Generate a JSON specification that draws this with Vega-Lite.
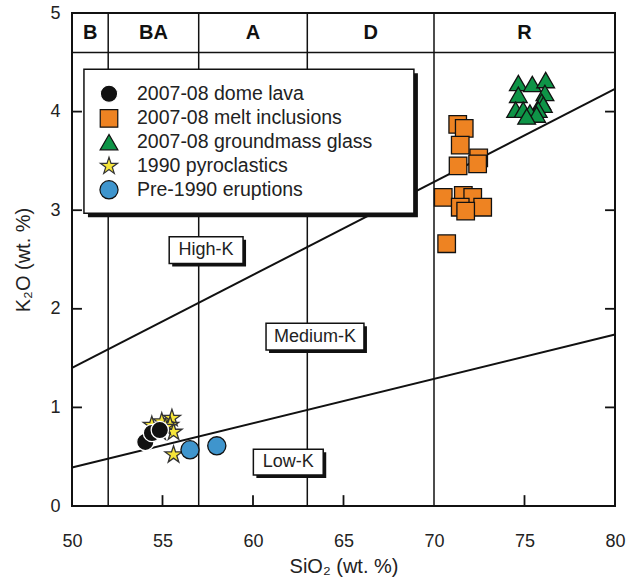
{
  "$schema": "https://vega.github.io/schema/vega-lite/v6.json",
  "width": 543,
  "height": 493,
  "autosize": {"type": "none"},
  "padding": {"left": 72, "top": 13, "right": 15, "bottom": 71},
  "background": "white",
  "config": {
    "view": {"stroke": "#111", "strokeWidth": 2},
    "font": "Liberation Sans",
    "axis": {
      "grid": false, "domain": false, "ticks": false, "tickSize": 0,
      "labelColor": "#222", "titleColor": "#222", "labelFont": "Liberation Sans",
      "titleFont": "Liberation Sans", "labelFontSize": 18, "titleFontSize": 20,
      "titleFontWeight": "normal", "labelFlush": false, "labelOverlap": false
    },
    "legend": {
      "orient": "none", "legendX": 27, "legendY": 71, "title": null, "padding": 0,
      "labelFont": "Liberation Sans", "labelFontSize": 19.5, "labelColor": "#222", "labelLimit": 0,
      "symbolSize": 200, "symbolStrokeColor": "#111", "symbolStrokeWidth": 1.2,
      "rowPadding": 1.7, "labelOffset": 18, "symbolType": "circle"
    }
  },
  "datasets": {
    "bounds": [{"SiO2": 52}, {"SiO2": 57}, {"SiO2": 63}, {"SiO2": 70}],
    "header": [
      {"label": "B", "SiO2": 51}, {"label": "BA", "SiO2": 54.5}, {"label": "A", "SiO2": 60},
      {"label": "D", "SiO2": 66.5}, {"label": "R", "SiO2": 75}
    ],
    "divides": [
      {"name": "High-K / Medium-K", "xa": 50, "ya": 1.40, "xb": 80, "yb": 4.23},
      {"name": "Medium-K / Low-K", "xa": 50, "ya": 0.39, "xb": 80, "yb": 1.74}
    ],
    "legendbox": [{"xa": 50.66, "xb": 68.89, "ya": 4.43, "yb": 2.97}],
    "kboxes": [
      {"label": "High-K", "xa": 55.37, "xb": 59.45, "ya": 2.73, "yb": 2.46, "cx": 57.41, "cy": 2.595},
      {"label": "Medium-K", "xa": 60.72, "xb": 66.13, "ya": 1.853, "yb": 1.582, "cx": 63.42, "cy": 1.717},
      {"label": "Low-K", "xa": 60.02, "xb": 63.88, "ya": 0.575, "yb": 0.314, "cx": 61.95, "cy": 0.444}
    ],
    "yticks": [{"K2O": 1}, {"K2O": 2}, {"K2O": 3}, {"K2O": 4}],
    "xticks": [{"SiO2": 55}, {"SiO2": 60}, {"SiO2": 65}, {"SiO2": 75}],
    "samples": [
      {"series": "1990 pyroclastics", "SiO2": 54.41, "K2O": 0.82},
      {"series": "1990 pyroclastics", "SiO2": 54.96, "K2O": 0.855},
      {"series": "1990 pyroclastics", "SiO2": 55.52, "K2O": 0.89},
      {"series": "1990 pyroclastics", "SiO2": 55.42, "K2O": 0.82},
      {"series": "1990 pyroclastics", "SiO2": 55.61, "K2O": 0.75},
      {"series": "1990 pyroclastics", "SiO2": 54.87, "K2O": 0.75},
      {"series": "1990 pyroclastics", "SiO2": 55.15, "K2O": 0.80},
      {"series": "1990 pyroclastics", "SiO2": 55.61, "K2O": 0.52},
      {"series": "2007-08 dome lava", "SiO2": 54.05, "K2O": 0.65},
      {"series": "2007-08 dome lava", "SiO2": 54.42, "K2O": 0.74},
      {"series": "2007-08 dome lava", "SiO2": 54.85, "K2O": 0.77},
      {"series": "Pre-1990 eruptions", "SiO2": 56.52, "K2O": 0.57},
      {"series": "Pre-1990 eruptions", "SiO2": 58.0, "K2O": 0.61},
      {"series": "2007-08 melt inclusions", "SiO2": 71.31, "K2O": 3.87},
      {"series": "2007-08 melt inclusions", "SiO2": 71.67, "K2O": 3.83},
      {"series": "2007-08 melt inclusions", "SiO2": 71.45, "K2O": 3.66},
      {"series": "2007-08 melt inclusions", "SiO2": 72.47, "K2O": 3.53},
      {"series": "2007-08 melt inclusions", "SiO2": 71.33, "K2O": 3.45},
      {"series": "2007-08 melt inclusions", "SiO2": 72.41, "K2O": 3.47},
      {"series": "2007-08 melt inclusions", "SiO2": 70.51, "K2O": 3.13},
      {"series": "2007-08 melt inclusions", "SiO2": 71.62, "K2O": 3.15},
      {"series": "2007-08 melt inclusions", "SiO2": 72.14, "K2O": 3.13},
      {"series": "2007-08 melt inclusions", "SiO2": 71.45, "K2O": 3.03},
      {"series": "2007-08 melt inclusions", "SiO2": 72.69, "K2O": 3.03},
      {"series": "2007-08 melt inclusions", "SiO2": 71.75, "K2O": 2.99},
      {"series": "2007-08 melt inclusions", "SiO2": 70.70, "K2O": 2.66},
      {"series": "2007-08 groundmass glass", "SiO2": 74.66, "K2O": 4.29},
      {"series": "2007-08 groundmass glass", "SiO2": 75.43, "K2O": 4.28},
      {"series": "2007-08 groundmass glass", "SiO2": 76.17, "K2O": 4.32},
      {"series": "2007-08 groundmass glass", "SiO2": 74.66, "K2O": 4.17},
      {"series": "2007-08 groundmass glass", "SiO2": 76.13, "K2O": 4.19},
      {"series": "2007-08 groundmass glass", "SiO2": 75.95, "K2O": 4.10},
      {"series": "2007-08 groundmass glass", "SiO2": 76.04, "K2O": 4.07},
      {"series": "2007-08 groundmass glass", "SiO2": 74.51, "K2O": 4.02},
      {"series": "2007-08 groundmass glass", "SiO2": 74.93, "K2O": 4.02},
      {"series": "2007-08 groundmass glass", "SiO2": 75.76, "K2O": 4.02},
      {"series": "2007-08 groundmass glass", "SiO2": 75.30, "K2O": 3.99},
      {"series": "2007-08 groundmass glass", "SiO2": 75.67, "K2O": 3.97},
      {"series": "2007-08 groundmass glass", "SiO2": 75.12, "K2O": 3.95}
    ]
  },
  "layer": [
    {
      "data": {"name": "bounds"},
      "mark": {"type": "rule", "color": "#111", "strokeWidth": 1.5},
      "encoding": {
        "x": {"field": "SiO2", "type": "quantitative"},
        "y": {"datum": 0, "type": "quantitative"},
        "y2": {"datum": 5}
      }
    },
    {
      "data": {"values": [{}]},
      "mark": {"type": "rule", "color": "#111", "strokeWidth": 1.5},
      "encoding": {"y": {"datum": 4.6, "type": "quantitative"}}
    },
    {
      "data": {"name": "header"},
      "mark": {"type": "text", "font": "Liberation Sans", "fontWeight": "bold", "fontSize": 20, "color": "#111", "baseline": "middle"},
      "encoding": {
        "x": {"field": "SiO2", "type": "quantitative"},
        "y": {"datum": 4.8, "type": "quantitative"},
        "text": {"field": "label"}
      }
    },
    {
      "data": {"name": "yticks"},
      "mark": {"type": "rule", "color": "#111", "strokeWidth": 1.8},
      "encoding": {
        "x": {"datum": 50, "type": "quantitative"},
        "x2": {"datum": 50.55},
        "y": {"field": "K2O", "type": "quantitative"}
      }
    },
    {
      "data": {"name": "yticks"},
      "mark": {"type": "rule", "color": "#111", "strokeWidth": 1.8},
      "encoding": {
        "x": {"datum": 79.45, "type": "quantitative"},
        "x2": {"datum": 80},
        "y": {"field": "K2O", "type": "quantitative"}
      }
    },
    {
      "data": {"name": "xticks"},
      "mark": {"type": "rule", "color": "#111", "strokeWidth": 1.8},
      "encoding": {
        "x": {"field": "SiO2", "type": "quantitative"},
        "y": {"datum": 0, "type": "quantitative"},
        "y2": {"datum": 0.11}
      }
    },
    {
      "data": {"name": "divides"},
      "mark": {"type": "rule", "color": "#111", "strokeWidth": 2},
      "encoding": {
        "x": {"field": "xa", "type": "quantitative"},
        "y": {"field": "ya", "type": "quantitative"},
        "x2": {"field": "xb"},
        "y2": {"field": "yb"}
      }
    },
    {
      "data": {"name": "legendbox"},
      "mark": {"type": "rect", "color": "#111", "xOffset": 4, "yOffset": 4, "x2Offset": 4, "y2Offset": 4},
      "encoding": {
        "x": {"field": "xa", "type": "quantitative"},
        "x2": {"field": "xb"},
        "y": {"field": "ya", "type": "quantitative"},
        "y2": {"field": "yb"}
      }
    },
    {
      "data": {"name": "legendbox"},
      "mark": {"type": "rect", "fill": "white", "stroke": "#111", "strokeWidth": 1.5},
      "encoding": {
        "x": {"field": "xa", "type": "quantitative"},
        "x2": {"field": "xb"},
        "y": {"field": "ya", "type": "quantitative"},
        "y2": {"field": "yb"}
      }
    },
    {
      "data": {"name": "kboxes"},
      "mark": {"type": "rect", "color": "#111", "xOffset": 3, "yOffset": 3, "x2Offset": 3, "y2Offset": 3},
      "encoding": {
        "x": {"field": "xa", "type": "quantitative"},
        "x2": {"field": "xb"},
        "y": {"field": "ya", "type": "quantitative"},
        "y2": {"field": "yb"}
      }
    },
    {
      "data": {"name": "kboxes"},
      "mark": {"type": "rect", "fill": "white", "stroke": "#111", "strokeWidth": 1.5},
      "encoding": {
        "x": {"field": "xa", "type": "quantitative"},
        "x2": {"field": "xb"},
        "y": {"field": "ya", "type": "quantitative"},
        "y2": {"field": "yb"}
      }
    },
    {
      "data": {"name": "kboxes"},
      "mark": {"type": "text", "font": "Liberation Sans", "fontSize": 18, "color": "#222", "baseline": "middle"},
      "encoding": {
        "x": {"field": "cx", "type": "quantitative"},
        "y": {"field": "cy", "type": "quantitative"},
        "text": {"field": "label"}
      }
    },
    {
      "data": {"name": "samples"},
      "mark": {"type": "point", "filled": true, "opacity": 1, "strokeWidth": 1.3},
      "encoding": {
        "x": {
          "field": "SiO2", "type": "quantitative",
          "scale": {"domain": [50, 80], "nice": false, "zero": false},
          "axis": {"orient": "bottom", "values": [50, 55, 60, 65, 70, 75, 80], "format": "d", "labelPadding": 26, "title": "SiO₂ (wt. %)", "titlePadding": 6}
        },
        "y": {
          "field": "K2O", "type": "quantitative",
          "scale": {"domain": [0, 5], "nice": false, "zero": true},
          "axis": {"orient": "left", "values": [0, 1, 2, 3, 4, 5], "format": "d", "labelPadding": 12, "title": "K₂O (wt. %)", "titlePadding": 16}
        },
        "color": {
          "field": "series", "type": "nominal",
          "scale": {
            "domain": ["2007-08 dome lava", "2007-08 melt inclusions", "2007-08 groundmass glass", "1990 pyroclastics", "Pre-1990 eruptions"],
            "range": ["#111111", "#EE8322", "#0E9447", "#F6E53A", "#3F95CD"]
          },
          "legend": {}
        },
        "shape": {
          "field": "series", "type": "nominal",
          "scale": {
            "domain": ["2007-08 dome lava", "2007-08 melt inclusions", "2007-08 groundmass glass", "1990 pyroclastics", "Pre-1990 eruptions"],
            "range": ["circle", "square", "triangle-up", "M0,-1L0.2245,-0.309L0.951,-0.309L0.363,0.118L0.588,0.809L0,0.382L-0.588,0.809L-0.363,0.118L-0.951,-0.309L-0.2245,-0.309Z", "circle"]
          },
          "legend": {}
        },
        "size": {
          "field": "series", "type": "nominal",
          "scale": {
            "domain": ["2007-08 dome lava", "2007-08 melt inclusions", "2007-08 groundmass glass", "1990 pyroclastics", "Pre-1990 eruptions"],
            "range": [300, 330, 260, 560, 400]
          },
          "legend": null
        },
        "stroke": {
          "field": "series", "type": "nominal",
          "scale": {
            "domain": ["2007-08 dome lava", "2007-08 melt inclusions", "2007-08 groundmass glass", "1990 pyroclastics", "Pre-1990 eruptions"],
            "range": ["#ffffff", "#111111", "#111111", "#333333", "#111111"]
          },
          "legend": null
        }
      }
    }
  ]
}
